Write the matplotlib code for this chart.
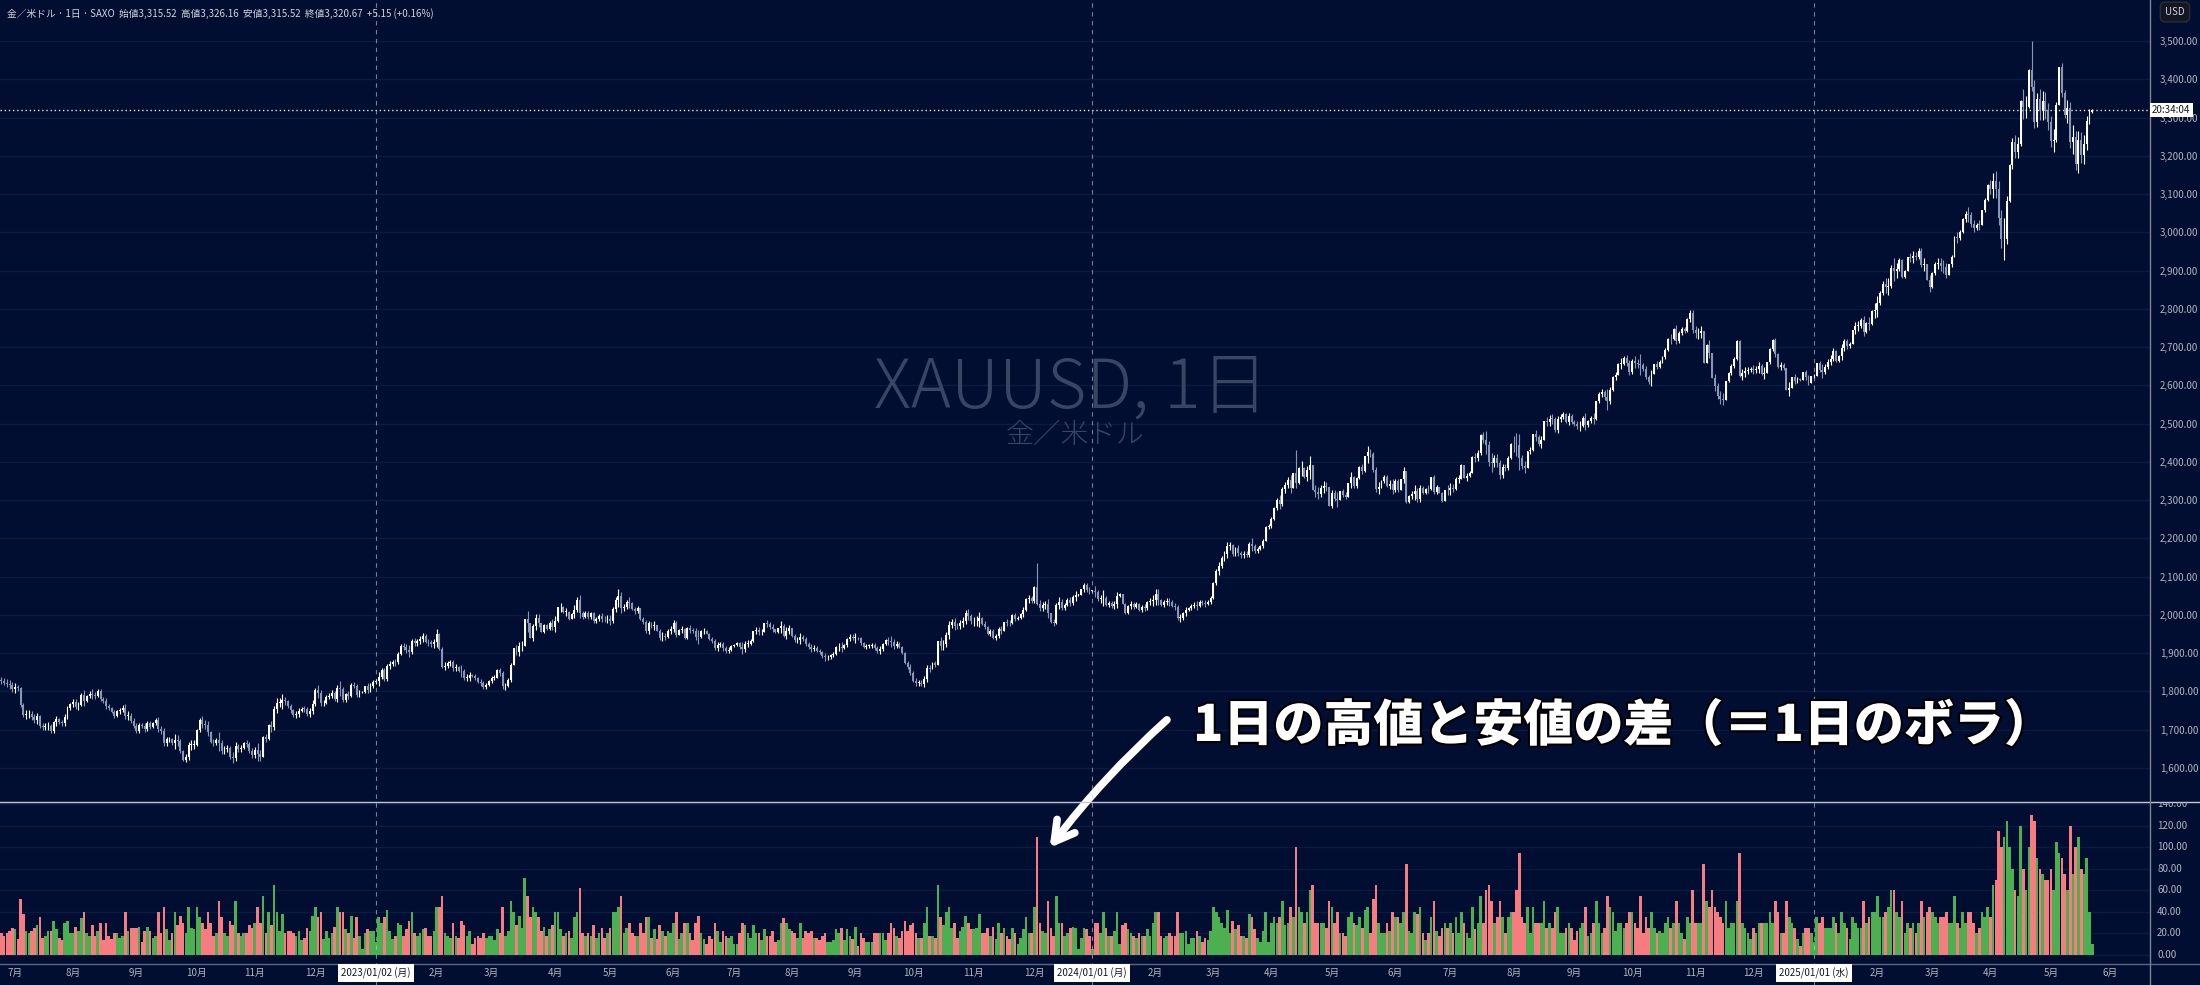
import numpy as np
import pandas as pd
import matplotlib
matplotlib.use("Agg")
import matplotlib.pyplot as plt
from matplotlib.lines import Line2D
from matplotlib.transforms import Bbox, blended_transform_factory
import matplotlib.patheffects as pe

plt.rcParams['font.family'] = ['Noto Sans CJK JP', 'DejaVu Sans']

# daily closes, one line per week (Mon-Fri)
close_2022 = [1827,
    1823, 1820, 1817, 1807, 1811,
    1808, 1764, 1739, 1740, 1742,
    1733, 1725, 1735, 1709, 1708,
    1709, 1711, 1696, 1719, 1727,
    1719, 1717, 1734, 1756, 1766,
    1772, 1760, 1765, 1791, 1775,
    1789, 1794, 1792, 1789, 1802,
    1779, 1776, 1761, 1758, 1747,
    1736, 1748, 1751, 1758, 1737,
    1737, 1723, 1711, 1697, 1712,
    1710, 1702, 1718, 1708, 1717,
    1725, 1702, 1697, 1665, 1675,
    1675, 1664, 1673, 1671, 1644,
    1622, 1629, 1660, 1660, 1661,
    1699, 1725, 1716, 1712, 1695,
    1668, 1666, 1673, 1666, 1644,
    1650, 1652, 1629, 1627, 1657,
    1649, 1652, 1665, 1663, 1644,
    1633, 1647, 1636, 1630, 1681,
    1676, 1712, 1706, 1755, 1771,
    1771, 1777, 1774, 1761, 1751,
    1738, 1740, 1750, 1755, 1754,
    1741, 1749, 1768, 1803, 1797,
    1769, 1771, 1786, 1789, 1797,
    1781, 1810, 1807, 1777, 1793,
    1788, 1818, 1814, 1792, 1798,
    1798, 1813, 1805, 1815, 1824]
close_2023 = [
    1827, 1839, 1855, 1833, 1866,
    1872, 1877, 1876, 1898, 1920,
    1916, 1908, 1904, 1932, 1926,
    1931, 1937, 1946, 1930, 1928,
    1923, 1928, 1951, 1912, 1865,
    1867, 1874, 1876, 1861, 1865,
    1854, 1853, 1836, 1836, 1842,
    1841, 1835, 1825, 1822, 1811,
    1817, 1827, 1836, 1836, 1856,
    1847, 1813, 1815, 1831, 1868,
    1913, 1904, 1918, 1919, 1989,
    1978, 1940, 1970, 1993, 1978,
    1956, 1973, 1964, 1980, 1969,
    1984, 2020, 2021, 2008, 2008,
    1990, 2003, 2014, 2040, 2004,
    1995, 2005, 1994, 2004, 1983,
    1989, 1997, 1990, 1989, 1990,
    1983, 2016, 2039, 2050, 2017,
    2021, 2034, 2031, 2015, 2010,
    2017, 1989, 1982, 1957, 1978,
    1971, 1975, 1958, 1941, 1946,
    1943, 1959, 1963, 1978, 1948,
    1961, 1963, 1940, 1965, 1961,
    1957, 1943, 1942, 1957, 1958,
    1951, 1936, 1933, 1913, 1921,
    1923, 1913, 1907, 1908, 1919,
    1921, 1926, 1915, 1911, 1925,
    1925, 1932, 1957, 1961, 1955,
    1955, 1979, 1976, 1969, 1962,
    1955, 1965, 1972, 1946, 1959,
    1965, 1944, 1934, 1934, 1943,
    1936, 1925, 1915, 1912, 1914,
    1907, 1902, 1892, 1889, 1889,
    1895, 1898, 1915, 1917, 1914,
    1921, 1937, 1943, 1940, 1940,
    1939, 1926, 1916, 1919, 1919,
    1922, 1913, 1907, 1910, 1924,
    1934, 1931, 1930, 1919, 1925,
    1916, 1901, 1875, 1864, 1849,
    1828, 1822, 1822, 1820, 1833,
    1861, 1860, 1874, 1869, 1932,
    1920, 1923, 1947, 1974, 1981,
    1972, 1970, 1979, 1985, 2006,
    1996, 1983, 1983, 1985, 1992,
    1977, 1969, 1950, 1958, 1940,
    1946, 1963, 1959, 1981, 1980,
    1978, 2000, 1990, 1992, 2002,
    2013, 2041, 2044, 2036, 2072,
    2029, 2019, 2025, 2028, 2004,
    1981, 1979, 2027, 2035, 2019,
    2027, 2040, 2031, 2046, 2053,
    2053, 2067, 2077, 2065, 2063]
close_2024 = [
    2063, 2059, 2042, 2043, 2045,
    2027, 2030, 2024, 2029, 2049,
    2055, 2028, 2006, 2023, 2029,
    2021, 2029, 2014, 2020, 2018,
    2033, 2037, 2039, 2054, 2039,
    2025, 2035, 2035, 2034, 2024,
    2020, 1992, 1992, 2004, 2013,
    2018, 2024, 2026, 2024, 2035,
    2031, 2029, 2035, 2044, 2083,
    2115, 2128, 2148, 2160, 2179,
    2182, 2158, 2175, 2162, 2156,
    2160, 2157, 2186, 2181, 2166,
    2172, 2179, 2194, 2230, 2232,
    2251, 2280, 2300, 2290, 2329,
    2339, 2352, 2333, 2372, 2344,
    2383, 2383, 2361, 2379, 2392,
    2327, 2322, 2316, 2332, 2337,
    2335, 2286, 2320, 2304, 2301,
    2323, 2314, 2309, 2346, 2360,
    2336, 2358, 2386, 2376, 2415,
    2425, 2421, 2379, 2329, 2334,
    2350, 2361, 2338, 2343, 2327,
    2350, 2327, 2355, 2376, 2294,
    2311, 2316, 2325, 2303, 2333,
    2319, 2329, 2328, 2360, 2322,
    2334, 2319, 2298, 2327, 2326,
    2332, 2330, 2356, 2356, 2392,
    2358, 2364, 2371, 2414, 2411,
    2422, 2469, 2458, 2445, 2400,
    2396, 2409, 2397, 2365, 2387,
    2384, 2410, 2447, 2446, 2443,
    2410, 2390, 2383, 2428, 2431,
    2472, 2465, 2447, 2456, 2507,
    2504, 2513, 2512, 2484, 2512,
    2518, 2524, 2504, 2521, 2503,
    2500, 2493, 2495, 2516, 2497,
    2506, 2516, 2512, 2558, 2578,
    2582, 2569, 2559, 2587, 2622,
    2628, 2657, 2657, 2672, 2658,
    2634, 2663, 2659, 2656, 2653,
    2644, 2622, 2608, 2630, 2657,
    2649, 2662, 2674, 2693, 2721,
    2720, 2748, 2716, 2736, 2747,
    2742, 2774, 2788, 2744, 2736,
    2736, 2742, 2659, 2706, 2684,
    2619, 2598, 2573, 2565, 2563,
    2611, 2632, 2650, 2670, 2715,
    2625, 2633, 2638, 2640, 2643,
    2640, 2643, 2651, 2631, 2633,
    2660, 2694, 2718, 2681, 2648,
    2652, 2646, 2587, 2594, 2622,
    2612, 2617, 2615, 2634, 2621,
    2606, 2624]
close_2025 = [
    2625, 2658, 2640,
    2636, 2649, 2662, 2670, 2690,
    2663, 2677, 2697, 2715, 2702,
    2708, 2745, 2755, 2755, 2770,
    2740, 2763, 2760, 2794, 2798,
    2815, 2842, 2866, 2856, 2861,
    2908, 2898, 2904, 2928, 2883,
    2898, 2935, 2933, 2939, 2936,
    2952, 2915, 2916, 2876, 2858,
    2893, 2918, 2920, 2911, 2910,
    2889, 2916, 2935, 2989, 2984,
    3001, 3035, 3048, 3044, 3023,
    3011, 3020, 3019, 3058, 3085,
    3124, 3113, 3134, 3114, 3037,
    2982, 2982, 3082, 3176, 3237,
    3211, 3230, 3343, 3327, 3328,
    3424, 3381, 3289, 3349, 3319,
    3344, 3317, 3288, 3239, 3241,
    3334, 3431, 3365, 3306, 3325,
    3236, 3250, 3178, 3240, 3203,
    3230, 3290, 3315.52, 3320.67]

# daily high - low range
range_2022 = [20,
    18, 20, 22, 25, 24,
    15, 52, 38, 22, 20,
    22, 25, 28, 35, 16,
    18, 22, 22, 32, 24,
    16, 14, 30, 32, 20,
    20, 26, 22, 34, 40,
    20, 18, 28, 18, 22,
    30, 14, 30, 18, 15,
    20, 20, 16, 18, 40,
    22, 25, 25, 25, 26,
    12, 22, 26, 22, 16,
    18, 40, 20, 45, 24,
    14, 20, 40, 28, 36,
    30, 20, 45, 25, 24,
    45, 35, 30, 24, 40,
    30, 18, 20, 50, 35,
    20, 18, 32, 28, 50,
    20, 18, 20, 20, 28,
    25, 30, 45, 30, 55,
    20, 40, 28, 65, 40,
    22, 38, 20, 22, 22,
    20, 18, 22, 14, 16,
    25, 22, 36, 45, 35,
    40, 15, 22, 16, 20,
    26, 45, 40, 40, 24,
    20, 36, 16, 35, 18,
    6, 20, 24, 22, 22]
range_2023 = [
    12, 35, 30, 35, 42,
    22, 15, 18, 30, 28,
    18, 24, 32, 40, 20,
    18, 20, 24, 25, 18,
    18, 22, 45, 45, 55,
    20, 18, 16, 30, 18,
    16, 32, 28, 18, 22,
    10, 16, 18, 16, 20,
    16, 18, 18, 14, 24,
    20, 45, 18, 22, 50,
    40, 28, 36, 25, 72,
    55, 35, 45, 40, 35,
    22, 26, 18, 24, 28,
    40, 40, 24, 18, 20,
    22, 16, 35, 40, 62,
    20, 18, 20, 18, 28,
    16, 20, 25, 16, 20,
    25, 40, 40, 45, 55,
    20, 25, 30, 20, 18,
    18, 30, 20, 35, 35,
    16, 24, 15, 28, 22,
    18, 22, 20, 30, 40,
    15, 20, 30, 30, 20,
    14, 30, 36, 20, 15,
    10, 18, 15, 30, 22,
    12, 22, 18, 16, 18,
    10, 10, 20, 30, 28,
    20, 16, 28, 20, 20,
    14, 24, 18, 18, 22,
    12, 14, 30, 34, 30,
    24, 22, 20, 16, 30,
    16, 22, 20, 22, 16,
    16, 14, 18, 20, 12,
    12, 14, 24, 20, 25,
    14, 24, 18, 15, 26,
    8, 20, 16, 12, 12,
    12, 20, 20, 20, 20,
    14, 20, 30, 25, 18,
    16, 22, 32, 22, 28,
    30, 20, 16, 16, 30,
    45, 18, 18, 16, 65,
    35, 28, 40, 45, 25,
    30, 16, 22, 26, 36,
    30, 24, 24, 25, 38,
    20, 20, 25, 18, 26,
    15, 30, 20, 25, 18,
    15, 25, 20, 10, 16,
    24, 35, 20, 20, 45,
    110, 30, 22, 20, 50,
    25, 18, 55, 30, 30,
    18, 20, 25, 26, 25,
    6, 16, 25, 24, 18]
range_2024 = [
    6, 30, 30, 20, 40,
    25, 18, 18, 22, 40,
    10, 28, 30, 24, 20,
    18, 16, 20, 18, 18,
    24, 18, 30, 40, 40,
    18, 16, 18, 20, 18,
    18, 40, 20, 20, 22,
    10, 16, 16, 22, 18,
    12, 16, 14, 22, 45,
    40, 35, 30, 25, 42,
    20, 32, 24, 28, 18,
    18, 16, 38, 35, 24,
    16, 12, 22, 40, 12,
    30, 35, 30, 35, 50,
    28, 30, 45, 35, 100,
    45, 40, 30, 40, 60,
    65, 30, 30, 30, 30,
    25, 50, 45, 30, 40,
    20, 20, 18, 35, 40,
    30, 28, 35, 25, 42,
    45, 20, 52, 65, 30,
    20, 20, 30, 22, 40,
    35, 35, 30, 40, 85,
    22, 20, 40, 38, 45,
    20, 14, 20, 35, 50,
    22, 18, 25, 30, 25,
    30, 20, 35, 20, 40,
    30, 20, 16, 45, 24,
    30, 55, 30, 60, 65,
    50, 30, 35, 50, 35,
    20, 35, 40, 40, 60,
    95, 35, 30, 45, 20,
    45, 30, 30, 30, 50,
    25, 30, 25, 40, 45,
    20, 20, 25, 30, 25,
    14, 22, 25, 30, 45,
    18, 20, 30, 50, 30,
    20, 25, 55, 45, 40,
    22, 30, 30, 25, 30,
    40, 40, 30, 25, 55,
    20, 35, 25, 40, 25,
    20, 22, 20, 30, 35,
    25, 30, 50, 30, 20,
    15, 35, 30, 60, 30,
    30, 30, 85, 50, 45,
    60, 45, 40, 35, 30,
    50, 25, 30, 30, 50,
    95, 30, 25, 20, 15,
    25, 20, 30, 30, 30,
    30, 40, 30, 50, 40,
    20, 20, 50, 35, 30,
    25, 15, 8, 20, 25,
    25, 20]
range_2025 = [
    12, 35, 30,
    35, 25, 25, 25, 35,
    30, 20, 40, 30, 25,
    15, 35, 30, 25, 25,
    50, 30, 35, 40, 40,
    55, 35, 35, 40, 45,
    60, 60, 40, 35, 50,
    20, 30, 25, 30, 20,
    30, 50, 35, 40, 45,
    40, 35, 30, 35, 35,
    40, 30, 30, 55, 30,
    25, 40, 30, 40, 40,
    30, 20, 25, 40, 35,
    45, 35, 65, 70, 115,
    100, 110, 125, 100, 80,
    60, 55, 120, 80, 60,
    100, 130, 125, 90, 80,
    75, 70, 70, 80, 60,
    105, 95, 90, 75, 60,
    120, 75, 100, 110, 80,
    75, 90, 40, 10.64]

# known session highs for the big spike days
spike_highs = {'2023-12-04': 2135, '2024-04-12': 2431, '2025-04-22': 3500}

first_open = 1830
dates = pd.bdate_range('2022-06-24', '2025-05-22')

close = np.array(close_2022 + close_2023 + close_2024 + close_2025, dtype=float)
rng = np.array(range_2022 + range_2023 + range_2024 + range_2025, dtype=float)
n = len(close)
dates = dates[:n]
x = np.arange(n)

opn = np.r_[first_open, close[:-1]]
top = np.maximum(opn, close)
bot = np.minimum(opn, close)
wick = np.maximum(rng - (top - bot), 0)
high = top + wick / 2
low = bot - wick / 2
for d, h in spike_highs.items():
    i = dates.get_loc(pd.Timestamp(d))
    high[i] = h
    low[i] = h - rng[i]
up = close >= opn

BG = '#010e31'
GRID = '#0b1a41'
TXT = '#b2b5be'

W, H = 2200, 985
fig = plt.figure(figsize=(W / 100, H / 100), dpi=100, facecolor=BG)

pane_r = 2150
ax = fig.add_axes([0, 1 - 802 / H, pane_r / W, 802 / H])
ax2 = fig.add_axes([0, 1 - 964 / H, pane_r / W, 162 / H])

xmin, xmax = -0.49, 779.97
for a in (ax, ax2):
    a.set_facecolor(BG)
    a.set_xlim(xmin, xmax)
    for s in a.spines.values():
        s.set_visible(False)
    a.set_xticks([])

ax.set_ylim(1511.1, 3607.2)
ax2.set_ylim(-8.4, 142.3)

# grid
price_ticks = np.arange(1600, 3501, 100)
for p in price_ticks:
    ax.axhline(p, color=GRID, lw=1, zorder=0)
vol_ticks = np.arange(0, 141, 20)
for v in vol_ticks:
    ax2.axhline(v, color=GRID, lw=1, zorder=0)

# candles
DOWN = '#8a96b6'
cols = np.where(up, '#ffffff', DOWN)
ax.vlines(x, low, high, colors=cols, lw=0.8, zorder=3)
ax.bar(x, np.maximum(top - bot, 1.5), bottom=bot, width=0.7,
       color=cols, linewidth=0, zorder=4)

# high-low range bars
vcols = np.where(up, '#4caf50', '#f77c80')
ax2.bar(x, rng, width=0.95, color=vcols, linewidth=0, zorder=3)

# price axis labels
ax.yaxis.tick_right()
ax.set_yticks(price_ticks)
ax.set_yticklabels([f'{p:,.2f}' for p in price_ticks])
ax.tick_params(axis='y', length=0, pad=7, labelsize=7, labelcolor=TXT)
ax2.set_yticks([])

vt = blended_transform_factory(fig.transFigure, ax2.transData)
clip = Bbox([[pane_r, H - 964], [W, H - 802]])
for v in vol_ticks:
    t = fig.text(2157 / W, v, f'{v:.2f}', transform=vt, fontsize=7,
                 color=TXT, va='center', ha='left')
    t.set_clip_box(clip)
    t.set_clip_on(True)

# pane borders
fig.add_artist(Line2D([0, 1], [1 - 802 / H] * 2, transform=fig.transFigure,
                      color='#c3c7d2', lw=1))
fig.add_artist(Line2D([0, 1], [1 - 964 / H] * 2, transform=fig.transFigure,
                      color='#5d6580', lw=1))
fig.add_artist(Line2D([pane_r / W] * 2, [0, 1], transform=fig.transFigure,
                      color='#7c8296', lw=1))

# year separators + month labels
wd = '月火水木金土日'
px_per_bar = pane_r / (xmax - xmin)
month_start = [i for i in range(1, n) if dates[i].month != dates[i - 1].month]
for i in month_start:
    d = dates[i]
    xf = (i - xmin) * px_per_bar / W
    if d.month == 1:
        fig.add_artist(Line2D([xf, xf], [0, 1], transform=fig.transFigure,
                              color='#c8ccd6', lw=0.8, ls=(0, (4, 4)), alpha=0.6))
        fig.text(xf, 1 - 973 / H, f'{d:%Y/%m/%d} ({wd[d.weekday()]})',
                 ha='center', va='center', fontsize=7, color='#131722',
                 bbox=dict(boxstyle='square,pad=0.35', fc='white', ec='none'))
    else:
        fig.text(xf, 1 - 973 / H, f'{d.month}月',
                 ha='center', va='center', fontsize=7, color=TXT)
fig.text(2110 / W, 1 - 973 / H, '6月', ha='center', va='center', fontsize=7, color=TXT)

# last price line
last = close[-1]
ax.axhline(last, color='#e0e3eb', lw=1, ls=(0, (1, 2)), zorder=2)
fig.text(2152 / W, 1 - 110 / H, '20:34:04', ha='left', va='center', fontsize=7,
         color='#131722', bbox=dict(boxstyle='square,pad=0.25', fc='white', ec='none'))
fig.text(2175 / W, 1 - 12 / H, 'USD', ha='center', va='center', fontsize=7,
         color='#d1d4dc', bbox=dict(boxstyle='round,pad=0.5', fc='#131722', ec='#2a2e39'))

# header
fig.text(7 / W, 1 - 14 / H,
         '金／米ドル · 1日 · SAXO  始値3,315.52  高値3,326.16  安値3,315.52  '
         '終値3,320.67  +5.15 (+0.16%)',
         ha='left', va='center', fontsize=7, color='#d1d4dc')

# watermark
fig.text(1071 / W, 1 - 389 / H, 'XAUUSD, 1日', ha='center', va='center',
         fontsize=49, color='#3a4566', fontweight='light', zorder=1)
fig.text(1075 / W, 1 - 435 / H, '金／米ドル', ha='center', va='center',
         fontsize=20, color='#3a4566', fontweight='light', zorder=1)

# annotation
ax2.annotate('', xy=(1048, H - 850), xytext=(1169, H - 718),
             xycoords='figure pixels', textcoords='figure pixels',
             annotation_clip=False, zorder=10,
             arrowprops=dict(arrowstyle='->,head_length=1.4,head_width=0.8',
                             color='white', lw=5.5, capstyle='round',
                             joinstyle='round', connectionstyle='arc3,rad=0.05'))
fig.text(1193 / W, 1 - 726 / H, '1日の高値と安値の差（＝1日のボラ）',
         ha='left', va='center', fontsize=36, fontweight='heavy', color='white',
         path_effects=[pe.withStroke(linewidth=3, foreground='#000000')])

fig.savefig('out.png', dpi=100, facecolor=BG)
